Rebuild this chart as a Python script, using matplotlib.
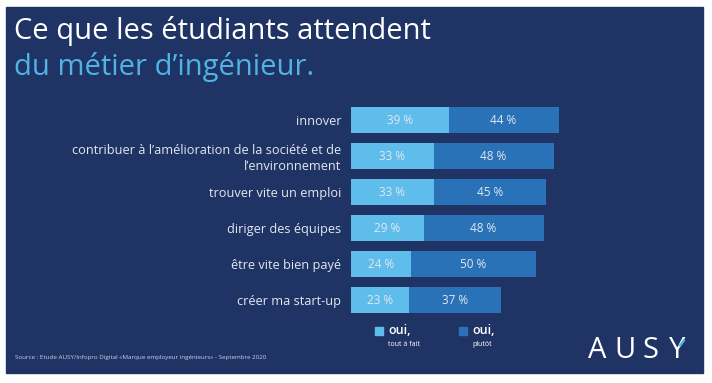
import matplotlib.pyplot as plt
from matplotlib.patches import Rectangle
from matplotlib.lines import Line2D

# Data
categories = ['innover',
              'contribuer à l’amélioration de la société et de\nl’environnement',
              'trouver vite un emploi',
              'diriger des équipes',
              'être vite bien payé',
              'créer ma start-up']
tout_a_fait = [39, 33, 33, 29, 24, 23]
plutot = [44, 48, 45, 48, 50, 37]
series_names = ['oui,', 'oui,']
series_sub = ['tout à fait', 'plutôt']

bg = '#1f3364'
light = '#5fbdec'
dark = '#2a72b8'
txt = '#e3e8f0'
W, H = 712, 383

plt.rcParams['font.family'] = ['Open Sans', 'DejaVu Sans']
fig = plt.figure(figsize=(W / 100, H / 100), dpi=100)
fig.patch.set_facecolor('white')

# navy panel
fig.patches.append(Rectangle((6 / W, 1 - 373 / H), 697 / W, 366 / H,
                             transform=fig.transFigure, color=bg, zorder=-5))

# titles
fig.text(14 / W, 1 - 31 / H, 'Ce que les étudiants attendent', color='white',
         fontsize=21, va='center', ha='left')
fig.text(14 / W, 1 - 67 / H, 'du métier d’ingénieur.', color='#4fb3e6',
         fontsize=21, va='center', ha='left')

# bars
ax = fig.add_axes([351 / W, 1 - 318 / H, 250 / W, 216 / H])
ax.set_facecolor('none')
y = list(range(len(categories)))
ax.barh(y, tout_a_fait, height=0.72, color=light)
ax.barh(y, plutot, left=tout_a_fait, height=0.72, color=dark)
for i in y:
    ax.text(tout_a_fait[i] / 2, i, f'{tout_a_fait[i]} %', ha='center', va='center',
            color=txt, fontsize=8.5)
    ax.text(tout_a_fait[i] + plutot[i] / 2, i, f'{plutot[i]} %', ha='center',
            va='center', color=txt, fontsize=8.5)
ax.set_xlim(0, 100)
ax.set_ylim(len(categories) - 0.5, -0.5)
ax.set_yticks(y)
ax.set_yticklabels(categories, color=txt, fontsize=9.2, linespacing=1.2)
ax.tick_params(axis='y', length=0, pad=7)
ax.set_xticks([])
for s in ax.spines.values():
    s.set_visible(False)

# legend
for k, (x0, col) in enumerate([(375, light), (459, dark)]):
    fig.patches.append(Rectangle((x0 / W, 1 - 335 / H), 8 / W, 8 / H,
                                 transform=fig.transFigure, color=col))
    fig.text((x0 + 13) / W, 1 - 331 / H, series_names[k], color='white',
             fontsize=9, fontweight='semibold', va='center', ha='left')
    fig.text((x0 + 13) / W, 1 - 344 / H, series_sub[k], color='white',
             fontsize=5, va='center', ha='left')

# source
fig.text(15 / W, 1 - 358 / H,
         'Source : Etude AUSY/Infopro Digital «Marque employeur ingénieurs» - Septembre 2020',
         color='#c9d2e3', fontsize=4.5, va='center', ha='left')

# logo, letters spread out
for letter, xc in zip('AUSY', [597, 625, 651, 677]):
    fig.text(xc / W, 1 - 350 / H, letter, color='white', fontsize=21,
             va='center', ha='center')
# blue accent on the Y's right arm
fig.lines.append(Line2D([679.5 / W, 684.5 / W], [1 - 346.5 / H, 1 - 339.5 / H],
                        transform=fig.transFigure, color='#4fb3e6', lw=1.8,
                        solid_capstyle='butt', zorder=10))

fig.savefig('out.png', dpi=100, facecolor=fig.get_facecolor())
